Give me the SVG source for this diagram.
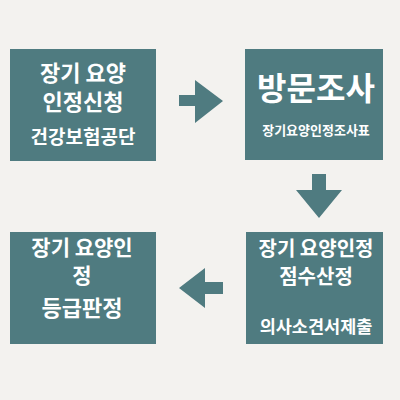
<svg xmlns="http://www.w3.org/2000/svg" width="400" height="400" viewBox="0 0 400 400">
<style>
.box{fill:#4f7b80}
.arr{fill:#4f7b80}
text{font-family:"Noto Sans CJK KR","Noto Sans",sans-serif;font-weight:bold;fill:#ffffff;text-anchor:middle}
</style>
<rect x="0" y="0" width="400" height="400" fill="#f3f2ef"/>
<g id="node1">
<rect class="box" x="10" y="49" width="146" height="112"/>
<text x="83" y="81" font-size="22">장기 요양</text>
<text x="83" y="110" font-size="22">인정신청</text>
<text x="83" y="144" font-size="19">건강보험공단</text>
</g>
<g id="node2">
<rect class="box" x="245" y="49" width="138" height="111"/>
<text x="316" y="100" font-size="32">방문조사</text>
<text x="316" y="135" font-size="13">장기요양인정조사표</text>
</g>
<g id="node3">
<rect class="box" x="246" y="232" width="137" height="112"/>
<text x="316" y="256" font-size="20">장기 요양인정</text>
<text x="316" y="284" font-size="20">점수산정</text>
<text x="316" y="333" font-size="17.5">의사소견서제출</text>
</g>
<g id="node4">
<rect class="box" x="10" y="232" width="146" height="112"/>
<text x="82" y="255" font-size="21">장기 요양인</text>
<text x="82" y="283" font-size="21">정</text>
<text x="82" y="316" font-size="22">등급판정</text>
</g>
<g id="connectors">
<polygon class="arr" points="179,95 195,95 195,80 223,101 195,123 195,106 179,106"/>
<polygon class="arr" points="312,174 326,174 326,190 342,190 319,218 296,190 312,190"/>
<polygon class="arr" points="223,282 205,282 205,268 179,288 205,308 205,294 223,294"/>
</g>
</svg>
